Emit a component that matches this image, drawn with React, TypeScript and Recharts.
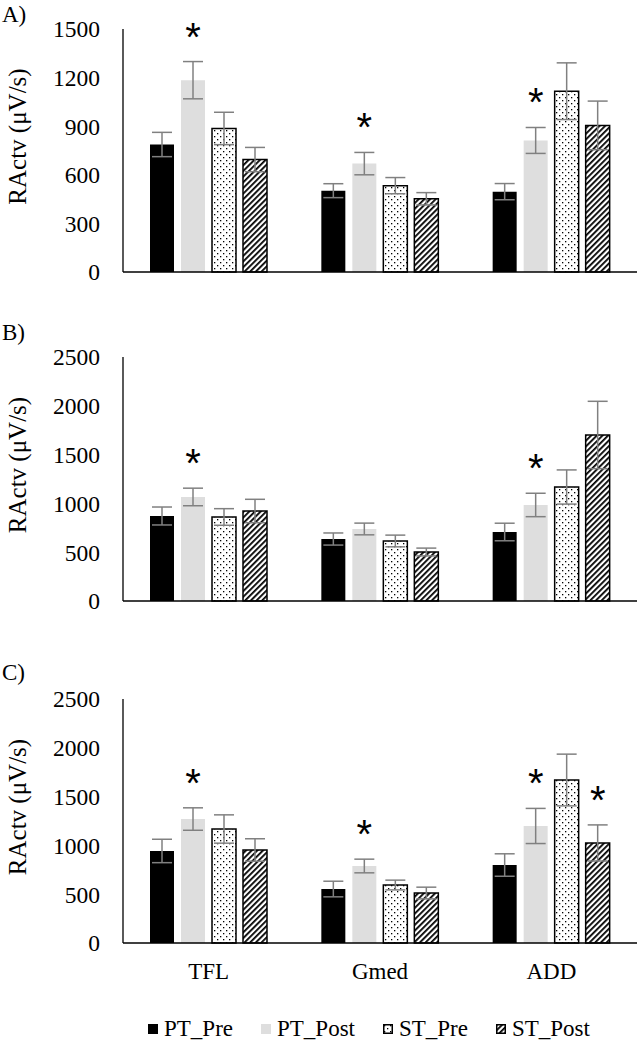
import React from "react";
import { BarChart, Bar, XAxis, YAxis, ErrorBar, LabelList } from "recharts";

const categories = ["TFL", "Gmed", "ADD"];
const seriesNames = ["PT_Pre", "PT_Post", "ST_Pre", "ST_Post"];

// A)
const aPtPre = [787, 502, 496];
const aPtPost = [1184, 669, 812];
const aStPre = [886, 533, 1116];
const aStPost = [694, 452, 905];
const aPtPreErr = [75, 43, 50];
const aPtPostErr = [115, 69, 80];
const aStPreErr = [100, 50, 175];
const aStPostErr = [75, 38, 150];
const aStarPtPost = [1, 1, 1];
const aStarStPost = [0, 0, 0];

// B)
const bPtPre = [871, 635, 707];
const bPtPost = [1066, 738, 984];
const bStPre = [861, 615, 1168];
const bStPost = [922, 502, 1701];
const bPtPreErr = [92, 62, 90];
const bPtPostErr = [90, 60, 120];
const bStPreErr = [85, 60, 175];
const bStPostErr = [120, 40, 345];
const bStarPtPost = [1, 0, 1];
const bStarStPost = [0, 0, 0];

// C)
const cPtPre = [943, 553, 799];
const cPtPost = [1270, 789, 1199];
const cStPre = [1168, 594, 1670];
const cStPost = [953, 512, 1025];
const cPtPreErr = [120, 80, 115];
const cPtPostErr = [115, 70, 180];
const cStPreErr = [145, 50, 265];
const cStPostErr = [115, 60, 185];
const cStarPtPost = [1, 1, 1];
const cStarStPost = [0, 0, 1];

const ticksA = [0, 300, 600, 900, 1200, 1500];
const ticksBC = [0, 500, 1000, 1500, 2000, 2500];

const none = [0, 0, 0];
const serif = "'Liberation Serif', 'Times New Roman', serif";
const fills = ["#000", "#dedede", "url(#dots)", "url(#hatch)"];
const strokes = ["none", "none", "#000", "#000"];

function buildRows(vals: number[][], errs: number[][], stars: number[][]) {
  return categories.map((name, i) => {
    const r: any = { name };
    vals.forEach((v, k) => {
      r[`v${k}`] = v[i];
      r[`e${k}`] = errs[k][i];
      r[`s${k}`] = stars[k][i];
    });
    return r;
  });
}

const rowsA = buildRows(
  [aPtPre, aPtPost, aStPre, aStPost],
  [aPtPreErr, aPtPostErr, aStPreErr, aStPostErr],
  [none, aStarPtPost, none, aStarStPost]
);
const rowsB = buildRows(
  [bPtPre, bPtPost, bStPre, bStPost],
  [bPtPreErr, bPtPostErr, bStPreErr, bStPostErr],
  [none, bStarPtPost, none, bStarStPost]
);
const rowsC = buildRows(
  [cPtPre, cPtPost, cStPre, cStPost],
  [cPtPreErr, cPtPostErr, cStPreErr, cStPostErr],
  [none, cStarPtPost, none, cStarStPost]
);

// asterisk sits ~34px above the top of the error bar
const starLabel = (data: any[], k: number) => (p: any) => {
  const row = data[p.index];
  if (!row || !row[`s${k}`]) return null;
  const perUnit = Number(p.height) / Number(p.value);
  const errTop = Number(p.y) - row[`e${k}`] * perUnit;
  const cy = errTop - 34;
  return (
    <text x={Number(p.x) + Number(p.width) / 2} y={cy + 23} textAnchor="middle"
      fontFamily="'Liberation Sans', Arial, sans-serif" fontSize={40} fill="#000">*</text>
  );
};

function Panel({ top, height, marginTop, xHeight, data, max, ticks, showX }: {
  top: number; height: number; marginTop: number; xHeight: number; data: any[];
  max: number; ticks: number[]; showX: boolean;
}) {
  return (
    <div style={{ position: "absolute", left: 0, top }}>
      <BarChart width={640} height={height} data={data} barSize={24} barGap={7}
        margin={{ top: marginTop, right: 3, bottom: 0, left: 0 }}>
        <XAxis dataKey="name" height={xHeight} tick={showX ? { fill: "#000", fontSize: 23, fontFamily: serif } : false}
          tickLine={false} tickSize={0} tickMargin={20} axisLine={{ stroke: "#000", strokeWidth: 1.3 }} />
        <YAxis width={123} domain={[0, max]} ticks={ticks} interval={0} tickLine={false} tickSize={0} tickMargin={23}
          tick={{ fill: "#000", fontSize: 23.5, fontFamily: serif }} axisLine={{ stroke: "#000", strokeWidth: 1.3 }}
          label={{
            content: ({ viewBox }: any) => (
              <text transform={`translate(17, ${viewBox.y + viewBox.height / 2 - 14}) rotate(-90)`}
                textAnchor="middle" dominantBaseline="central" fontFamily={serif} fontSize={25} fill="#000">
                RActv (μV/s)
              </text>
            ),
          }} />
        {seriesNames.map((s, k) => (
          <Bar key={s} name={s} dataKey={`v${k}`} fill={fills[k]} stroke={strokes[k]} strokeWidth={1.5}
            isAnimationActive={false}>
            <ErrorBar dataKey={`e${k}`} width={10} stroke="#808080" strokeWidth={1.5} isAnimationActive={false} />
            <LabelList dataKey={`v${k}`} content={starLabel(data, k)} />
          </Bar>
        ))}
      </BarChart>
    </div>
  );
}

const letterStyle = (top: number): React.CSSProperties => ({
  position: "absolute", left: 2, top, fontFamily: serif, fontSize: 23, lineHeight: "23px", color: "#000",
});

export default function App() {
  return (
    <div style={{ position: "absolute", left: 0, top: 0, width: 640, height: 1050, background: "#fff" }}>
      <svg width={0} height={0} style={{ position: "absolute" }}>
        <defs>
          <pattern id="dots" patternUnits="userSpaceOnUse" width={6} height={6}>
            <rect width={6} height={6} fill="#fff" />
            <rect x={1} y={1} width={1.3} height={1.3} fill="#000" />
            <rect x={4} y={4} width={1.3} height={1.3} fill="#000" />
          </pattern>
          <pattern id="hatch" patternUnits="userSpaceOnUse" width={4} height={4} patternTransform="rotate(45)">
            <rect width={4} height={4} fill="#fff" />
            <rect x={0} y={0} width={1.8} height={4} fill="#000" />
          </pattern>
        </defs>
      </svg>
      <div style={letterStyle(3)}>A)</div>
      <div style={letterStyle(321)}>B)</div>
      <div style={letterStyle(661)}>C)</div>
      <Panel top={0} height={290} marginTop={29} xHeight={18} data={rowsA} max={1500} ticks={ticksA} showX={false} />
      <Panel top={290} height={330} marginTop={67} xHeight={19} data={rowsB} max={2500} ticks={ticksBC} showX={false} />
      <Panel top={620} height={380} marginTop={79} xHeight={57} data={rowsC} max={2500} ticks={ticksBC} showX={true} />
      <div style={{
        position: "absolute", left: 148, top: 1016, display: "flex", alignItems: "center",
        fontFamily: serif, fontSize: 23, color: "#000", gap: 28,
      }}>
        {seriesNames.map((s, k) => (
          <div key={s} style={{ display: "flex", alignItems: "center" }}>
            <svg width={10} height={10} style={{ marginRight: 6 }}>
              <rect x={k > 1 ? 0.75 : 0} y={k > 1 ? 0.75 : 0} width={k > 1 ? 8.5 : 10} height={k > 1 ? 8.5 : 10}
                fill={fills[k]} stroke={strokes[k]} strokeWidth={1.5} />
            </svg>
            <span>{s}</span>
          </div>
        ))}
      </div>
    </div>
  );
}
